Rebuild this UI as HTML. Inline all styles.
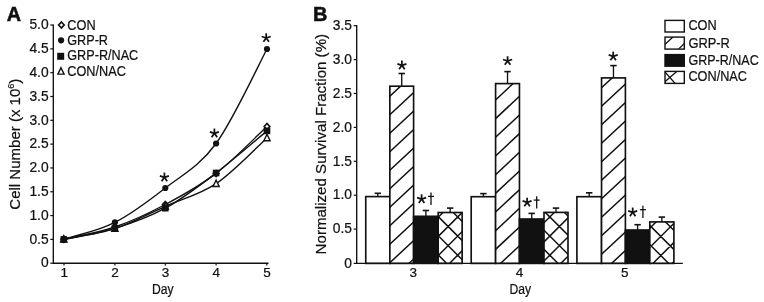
<!DOCTYPE html>
<html><head><meta charset="utf-8"><title>Figure</title>
<style>html,body{margin:0;padding:0;background:#fff}svg{display:block;will-change:transform}text{stroke:#111;stroke-width:.22px}text.pl{stroke-width:.55px}</style>
</head><body>
<svg width="764" height="302" viewBox="0 0 764 302">
<rect width="100%" height="100%" fill="#fff"/>
<defs>
</defs>
<g font-family="Liberation Sans, sans-serif" fill="#111">
<text x="6.8" y="21.1" font-size="20.7" class="pl" font-weight="bold" textLength="14.3" lengthAdjust="spacingAndGlyphs">A</text>
<path d="M53.30,24.45 V263.20 H268.50" fill="none" stroke="#111" stroke-width="1.35"/>
<line x1="50.30" y1="263.20" x2="53.30" y2="263.20" stroke="#111" stroke-width="1.2"/>
<text x="48.6" y="267.45" font-size="13.8" text-anchor="end">0</text>
<line x1="50.30" y1="239.38" x2="53.30" y2="239.38" stroke="#111" stroke-width="1.2"/>
<text x="48.6" y="243.63" font-size="13.8" text-anchor="end">0.5</text>
<line x1="50.30" y1="215.57" x2="53.30" y2="215.57" stroke="#111" stroke-width="1.2"/>
<text x="48.6" y="219.82" font-size="13.8" text-anchor="end">1.0</text>
<line x1="50.30" y1="191.75" x2="53.30" y2="191.75" stroke="#111" stroke-width="1.2"/>
<text x="48.6" y="196.00" font-size="13.8" text-anchor="end">1.5</text>
<line x1="50.30" y1="167.94" x2="53.30" y2="167.94" stroke="#111" stroke-width="1.2"/>
<text x="48.6" y="172.19" font-size="13.8" text-anchor="end">2.0</text>
<line x1="50.30" y1="144.12" x2="53.30" y2="144.12" stroke="#111" stroke-width="1.2"/>
<text x="48.6" y="148.38" font-size="13.8" text-anchor="end">2.5</text>
<line x1="50.30" y1="120.31" x2="53.30" y2="120.31" stroke="#111" stroke-width="1.2"/>
<text x="48.6" y="124.56" font-size="13.8" text-anchor="end">3.0</text>
<line x1="50.30" y1="96.50" x2="53.30" y2="96.50" stroke="#111" stroke-width="1.2"/>
<text x="48.6" y="100.75" font-size="13.8" text-anchor="end">3.5</text>
<line x1="50.30" y1="72.68" x2="53.30" y2="72.68" stroke="#111" stroke-width="1.2"/>
<text x="48.6" y="76.93" font-size="13.8" text-anchor="end">4.0</text>
<line x1="50.30" y1="48.87" x2="53.30" y2="48.87" stroke="#111" stroke-width="1.2"/>
<text x="48.6" y="53.12" font-size="13.8" text-anchor="end">4.5</text>
<line x1="50.30" y1="25.05" x2="53.30" y2="25.05" stroke="#111" stroke-width="1.2"/>
<text x="48.6" y="29.30" font-size="13.8" text-anchor="end">5.0</text>
<line x1="64.00" y1="263.20" x2="64.00" y2="265.60" stroke="#111" stroke-width="1.2"/>
<text x="64.20" y="277" font-size="13.5" text-anchor="middle">1</text>
<line x1="114.90" y1="263.20" x2="114.90" y2="265.60" stroke="#111" stroke-width="1.2"/>
<text x="115.10" y="277" font-size="13.5" text-anchor="middle">2</text>
<line x1="165.30" y1="263.20" x2="165.30" y2="265.60" stroke="#111" stroke-width="1.2"/>
<text x="165.50" y="277" font-size="13.5" text-anchor="middle">3</text>
<line x1="216.10" y1="263.20" x2="216.10" y2="265.60" stroke="#111" stroke-width="1.2"/>
<text x="216.30" y="277" font-size="13.5" text-anchor="middle">4</text>
<line x1="266.80" y1="263.20" x2="266.80" y2="265.60" stroke="#111" stroke-width="1.2"/>
<text x="267.00" y="277" font-size="13.5" text-anchor="middle">5</text>
<text x="162.8" y="293.8" font-size="14" text-anchor="middle" textLength="21.6" lengthAdjust="spacingAndGlyphs">Day</text>
<text transform="translate(19.7,209.7) rotate(-90)" font-size="15" textLength="131" lengthAdjust="spacingAndGlyphs">Cell Number (x 10<tspan font-size="9" dy="-5.5">6</tspan><tspan dy="5.5">)</tspan></text>
<path d="M63.80,239.30 C72.32,237.25 97.98,232.80 114.90,227.00 C131.82,221.20 148.43,213.43 165.30,204.50 C182.17,195.57 199.15,186.40 216.10,173.40 C233.05,160.40 258.52,134.32 267.00,126.50" fill="none" stroke="#111" stroke-width="1.4"/>
<path d="M63.80,239.30 C72.32,236.48 97.98,230.95 114.90,222.40 C131.82,213.85 148.43,201.15 165.30,188.00 C182.17,174.85 199.15,166.67 216.10,143.50 C233.05,120.33 258.52,64.75 267.00,49.00" fill="none" stroke="#111" stroke-width="1.4"/>
<path d="M63.80,239.40 C72.32,237.57 97.98,233.60 114.90,228.40 C131.82,223.20 148.43,217.43 165.30,208.20 C182.17,198.97 199.15,185.88 216.10,173.00 C233.05,160.12 258.52,137.92 267.00,130.90" fill="none" stroke="#111" stroke-width="1.4"/>
<path d="M63.80,239.30 C72.32,237.52 97.98,234.10 114.90,228.60 C131.82,223.10 148.43,213.78 165.30,206.30 C182.17,198.82 199.15,195.10 216.10,183.70 C233.05,172.30 258.52,145.53 267.00,137.90" fill="none" stroke="#111" stroke-width="1.4"/>
<path d="M63.80,236.30 L66.55,239.30 L63.80,242.30 L61.05,239.30 Z" fill="#fff" stroke="#111" stroke-width="1.7"/>
<path d="M114.90,224.00 L117.65,227.00 L114.90,230.00 L112.15,227.00 Z" fill="#fff" stroke="#111" stroke-width="1.7"/>
<path d="M165.30,201.50 L168.05,204.50 L165.30,207.50 L162.55,204.50 Z" fill="#fff" stroke="#111" stroke-width="1.7"/>
<path d="M216.10,170.40 L218.85,173.40 L216.10,176.40 L213.35,173.40 Z" fill="#fff" stroke="#111" stroke-width="1.7"/>
<path d="M267.00,123.50 L269.75,126.50 L267.00,129.50 L264.25,126.50 Z" fill="#fff" stroke="#111" stroke-width="1.7"/>
<path d="M63.80,235.70 L66.90,242.10 L60.70,242.10 Z" fill="#fff" stroke="#111" stroke-width="1.4" stroke-linejoin="miter"/>
<path d="M114.90,225.00 L118.00,231.40 L111.80,231.40 Z" fill="#fff" stroke="#111" stroke-width="1.4" stroke-linejoin="miter"/>
<path d="M165.30,202.70 L168.40,209.10 L162.20,209.10 Z" fill="#fff" stroke="#111" stroke-width="1.4" stroke-linejoin="miter"/>
<path d="M216.10,180.10 L219.20,186.50 L213.00,186.50 Z" fill="#fff" stroke="#111" stroke-width="1.4" stroke-linejoin="miter"/>
<path d="M267.00,134.30 L270.10,140.70 L263.90,140.70 Z" fill="#fff" stroke="#111" stroke-width="1.4" stroke-linejoin="miter"/>
<circle cx="63.80" cy="239.30" r="3.10" fill="#111"/>
<circle cx="114.90" cy="222.40" r="3.10" fill="#111"/>
<circle cx="165.30" cy="188.00" r="3.10" fill="#111"/>
<circle cx="216.10" cy="143.50" r="3.10" fill="#111"/>
<circle cx="267.00" cy="49.00" r="3.10" fill="#111"/>
<rect x="60.50" y="236.10" width="6.60" height="6.60" fill="#111"/>
<rect x="111.60" y="225.10" width="6.60" height="6.60" fill="#111"/>
<rect x="162.00" y="204.90" width="6.60" height="6.60" fill="#111"/>
<rect x="212.80" y="169.70" width="6.60" height="6.60" fill="#111"/>
<rect x="263.70" y="127.60" width="6.60" height="6.60" fill="#111"/>
<g stroke="#111" stroke-width="1.75" stroke-linecap="butt"><line x1="164.40" y1="177.30" x2="164.40" y2="172.55"/><line x1="164.40" y1="177.30" x2="168.92" y2="175.83"/><line x1="164.40" y1="177.30" x2="167.19" y2="181.14"/><line x1="164.40" y1="177.30" x2="161.61" y2="181.14"/><line x1="164.40" y1="177.30" x2="159.88" y2="175.83"/></g>
<g stroke="#111" stroke-width="1.75" stroke-linecap="butt"><line x1="214.40" y1="133.30" x2="214.40" y2="128.55"/><line x1="214.40" y1="133.30" x2="218.92" y2="131.83"/><line x1="214.40" y1="133.30" x2="217.19" y2="137.14"/><line x1="214.40" y1="133.30" x2="211.61" y2="137.14"/><line x1="214.40" y1="133.30" x2="209.88" y2="131.83"/></g>
<g stroke="#111" stroke-width="1.75" stroke-linecap="butt"><line x1="266.20" y1="38.00" x2="266.20" y2="33.25"/><line x1="266.20" y1="38.00" x2="270.72" y2="36.53"/><line x1="266.20" y1="38.00" x2="268.99" y2="41.84"/><line x1="266.20" y1="38.00" x2="263.41" y2="41.84"/><line x1="266.20" y1="38.00" x2="261.68" y2="36.53"/></g>
<path d="M61.40,22.00 L64.15,25.00 L61.40,28.00 L58.65,25.00 Z" fill="#fff" stroke="#111" stroke-width="1.7"/>
<circle cx="61.10" cy="40.30" r="3.10" fill="#111"/>
<rect x="57.20" y="52.80" width="7.00" height="7.00" fill="#111"/>
<path d="M61.00,67.70 L64.10,74.10 L57.90,74.10 Z" fill="#fff" stroke="#111" stroke-width="1.4" stroke-linejoin="miter"/>
<text x="67.3" y="29.70" font-size="14" textLength="28.30" lengthAdjust="spacingAndGlyphs">CON</text>
<text x="67.3" y="45.00" font-size="14" textLength="40.70" lengthAdjust="spacingAndGlyphs">GRP-R</text>
<text x="67.3" y="60.30" font-size="14" textLength="70.90" lengthAdjust="spacingAndGlyphs">GRP-R/NAC</text>
<text x="67.3" y="75.70" font-size="14" textLength="58.60" lengthAdjust="spacingAndGlyphs">CON/NAC</text>
</g>
<g font-family="Liberation Sans, sans-serif" fill="#111">
<text x="313.1" y="20.8" font-size="20.7" class="pl" font-weight="bold" textLength="14.4" lengthAdjust="spacingAndGlyphs">B</text>
<line x1="353.70" y1="263.40" x2="356.70" y2="263.40" stroke="#111" stroke-width="1.2"/>
<text x="351.9" y="267.65" font-size="13.8" text-anchor="end">0</text>
<line x1="353.70" y1="229.10" x2="356.70" y2="229.10" stroke="#111" stroke-width="1.2"/>
<text x="351.9" y="233.35" font-size="13.8" text-anchor="end">0.5</text>
<line x1="353.70" y1="195.20" x2="356.70" y2="195.20" stroke="#111" stroke-width="1.2"/>
<text x="351.9" y="199.45" font-size="13.8" text-anchor="end">1.0</text>
<line x1="353.70" y1="161.30" x2="356.70" y2="161.30" stroke="#111" stroke-width="1.2"/>
<text x="351.9" y="165.55" font-size="13.8" text-anchor="end">1.5</text>
<line x1="353.70" y1="127.40" x2="356.70" y2="127.40" stroke="#111" stroke-width="1.2"/>
<text x="351.9" y="131.65" font-size="13.8" text-anchor="end">2.0</text>
<line x1="353.70" y1="93.50" x2="356.70" y2="93.50" stroke="#111" stroke-width="1.2"/>
<text x="351.9" y="97.75" font-size="13.8" text-anchor="end">2.5</text>
<line x1="353.70" y1="59.60" x2="356.70" y2="59.60" stroke="#111" stroke-width="1.2"/>
<text x="351.9" y="63.85" font-size="13.8" text-anchor="end">3.0</text>
<line x1="353.70" y1="25.70" x2="356.70" y2="25.70" stroke="#111" stroke-width="1.2"/>
<text x="351.9" y="29.95" font-size="13.8" text-anchor="end">3.5</text>
<text transform="translate(326.0,254.4) rotate(-90)" font-size="15" textLength="220.5" lengthAdjust="spacingAndGlyphs">Normalized Survival Fraction (%)</text>
<path d="M377.80,196.60 V193.30" fill="none" stroke="#111" stroke-width="1.35"/><path d="M374.60,193.30 H381.00" fill="none" stroke="#111" stroke-width="1.6"/>
<rect x="365.75" y="196.60" width="24.10" height="66.80" fill="#fff" stroke="#111" stroke-width="1.65"/>
<path d="M401.73,86.20 V73.50" fill="none" stroke="#111" stroke-width="1.35"/><path d="M398.53,73.50 H404.93" fill="none" stroke="#111" stroke-width="1.6"/>
<rect x="389.85" y="86.20" width="23.75" height="177.20" fill="#fff" stroke="#111" stroke-width="1.65"/>
<clipPath id="c1"><rect x="389.85" y="86.20" width="23.75" height="177.20"/></clipPath>
<path d="M387.85,42.62 L415.60,16.67 M387.85,61.12 L415.60,35.17 M387.85,79.62 L415.60,53.67 M387.85,98.12 L415.60,72.17 M387.85,116.62 L415.60,90.67 M387.85,135.12 L415.60,109.17 M387.85,153.62 L415.60,127.67 M387.85,172.12 L415.60,146.17 M387.85,190.62 L415.60,164.67 M387.85,209.12 L415.60,183.17 M387.85,227.62 L415.60,201.67 M387.85,246.12 L415.60,220.17 M387.85,264.62 L415.60,238.67 M387.85,283.12 L415.60,257.17 " clip-path="url(#c1)" fill="none" stroke="#111" stroke-width="1.5"/>
<path d="M425.90,216.30 V210.50" fill="none" stroke="#111" stroke-width="1.35"/><path d="M422.70,210.50 H429.10" fill="none" stroke="#111" stroke-width="1.6"/>
<rect x="413.60" y="216.30" width="24.60" height="47.10" fill="#111" stroke="#111" stroke-width="1.65"/>
<path d="M450.17,212.50 V208.10" fill="none" stroke="#111" stroke-width="1.35"/><path d="M446.97,208.10 H453.37" fill="none" stroke="#111" stroke-width="1.6"/>
<rect x="438.20" y="212.50" width="23.95" height="50.90" fill="#fff" stroke="#111" stroke-width="1.65"/>
<clipPath id="c2"><rect x="438.20" y="212.50" width="23.95" height="50.90"/></clipPath>
<path d="M436.20,123.50 L464.15,95.55 M436.20,99.70 L464.15,127.65 M436.20,142.65 L464.15,114.70 M436.20,118.85 L464.15,146.80 M436.20,161.80 L464.15,133.85 M436.20,138.00 L464.15,165.95 M436.20,180.95 L464.15,153.00 M436.20,157.15 L464.15,185.10 M436.20,200.10 L464.15,172.15 M436.20,176.30 L464.15,204.25 M436.20,219.25 L464.15,191.30 M436.20,195.45 L464.15,223.40 M436.20,238.40 L464.15,210.45 M436.20,214.60 L464.15,242.55 M436.20,257.55 L464.15,229.60 M436.20,233.75 L464.15,261.70 M436.20,276.70 L464.15,248.75 M436.20,252.90 L464.15,280.85 M436.20,295.85 L464.15,267.90 M436.20,272.05 L464.15,300.00 M436.20,315.00 L464.15,287.05 M436.20,291.20 L464.15,319.15 M436.20,334.15 L464.15,306.20 M436.20,310.35 L464.15,338.30 M436.20,353.30 L464.15,325.35 M436.20,329.50 L464.15,357.45 " clip-path="url(#c2)" fill="none" stroke="#111" stroke-width="1.5"/>
<g stroke="#111" stroke-width="1.75" stroke-linecap="butt"><line x1="401.90" y1="65.30" x2="401.90" y2="60.55"/><line x1="401.90" y1="65.30" x2="406.42" y2="63.83"/><line x1="401.90" y1="65.30" x2="404.69" y2="69.14"/><line x1="401.90" y1="65.30" x2="399.11" y2="69.14"/><line x1="401.90" y1="65.30" x2="397.38" y2="63.83"/></g>
<g stroke="#111" stroke-width="1.75" stroke-linecap="butt"><line x1="421.60" y1="199.10" x2="421.60" y2="194.35"/><line x1="421.60" y1="199.10" x2="426.12" y2="197.63"/><line x1="421.60" y1="199.10" x2="424.39" y2="202.94"/><line x1="421.60" y1="199.10" x2="418.81" y2="202.94"/><line x1="421.60" y1="199.10" x2="417.08" y2="197.63"/></g>
<g stroke="#111" stroke-width="1.3"><line x1="431.00" y1="192.50" x2="431.00" y2="204.90"/><line x1="428.00" y1="196.40" x2="434.00" y2="196.40"/></g>
<text x="413.20" y="277.1" font-size="13.5" text-anchor="middle">3</text>
<path d="M483.40,196.70 V193.60" fill="none" stroke="#111" stroke-width="1.35"/><path d="M480.20,193.60 H486.60" fill="none" stroke="#111" stroke-width="1.6"/>
<rect x="471.20" y="196.70" width="24.40" height="66.70" fill="#fff" stroke="#111" stroke-width="1.65"/>
<path d="M507.53,83.60 V71.60" fill="none" stroke="#111" stroke-width="1.35"/><path d="M504.33,71.60 H510.73" fill="none" stroke="#111" stroke-width="1.6"/>
<rect x="495.60" y="83.60" width="23.85" height="179.80" fill="#fff" stroke="#111" stroke-width="1.65"/>
<clipPath id="c3"><rect x="495.60" y="83.60" width="23.85" height="179.80"/></clipPath>
<path d="M493.60,45.73 L521.45,19.69 M493.60,64.41 L521.45,38.37 M493.60,83.09 L521.45,57.05 M493.60,101.77 L521.45,75.73 M493.60,120.45 L521.45,94.41 M493.60,139.13 L521.45,113.09 M493.60,157.81 L521.45,131.77 M493.60,176.49 L521.45,150.45 M493.60,195.17 L521.45,169.13 M493.60,213.85 L521.45,187.81 M493.60,232.53 L521.45,206.49 M493.60,251.21 L521.45,225.17 M493.60,269.89 L521.45,243.85 M493.60,288.57 L521.45,262.53 " clip-path="url(#c3)" fill="none" stroke="#111" stroke-width="1.5"/>
<path d="M531.73,219.00 V213.40" fill="none" stroke="#111" stroke-width="1.35"/><path d="M528.52,213.40 H534.93" fill="none" stroke="#111" stroke-width="1.6"/>
<rect x="519.45" y="219.00" width="24.55" height="44.40" fill="#111" stroke="#111" stroke-width="1.65"/>
<path d="M556.00,212.40 V208.10" fill="none" stroke="#111" stroke-width="1.35"/><path d="M552.80,208.10 H559.20" fill="none" stroke="#111" stroke-width="1.6"/>
<rect x="544.00" y="212.40" width="24.00" height="51.00" fill="#fff" stroke="#111" stroke-width="1.65"/>
<clipPath id="c4"><rect x="544.00" y="212.40" width="24.00" height="51.00"/></clipPath>
<path d="M542.00,129.00 L570.00,101.00 M542.00,94.20 L570.00,122.20 M542.00,148.15 L570.00,120.15 M542.00,113.35 L570.00,141.35 M542.00,167.30 L570.00,139.30 M542.00,132.50 L570.00,160.50 M542.00,186.45 L570.00,158.45 M542.00,151.65 L570.00,179.65 M542.00,205.60 L570.00,177.60 M542.00,170.80 L570.00,198.80 M542.00,224.75 L570.00,196.75 M542.00,189.95 L570.00,217.95 M542.00,243.90 L570.00,215.90 M542.00,209.10 L570.00,237.10 M542.00,263.05 L570.00,235.05 M542.00,228.25 L570.00,256.25 M542.00,282.20 L570.00,254.20 M542.00,247.40 L570.00,275.40 M542.00,301.35 L570.00,273.35 M542.00,266.55 L570.00,294.55 M542.00,320.50 L570.00,292.50 M542.00,285.70 L570.00,313.70 M542.00,339.65 L570.00,311.65 M542.00,304.85 L570.00,332.85 M542.00,358.80 L570.00,330.80 M542.00,324.00 L570.00,352.00 " clip-path="url(#c4)" fill="none" stroke="#111" stroke-width="1.5"/>
<g stroke="#111" stroke-width="1.75" stroke-linecap="butt"><line x1="507.60" y1="61.00" x2="507.60" y2="56.25"/><line x1="507.60" y1="61.00" x2="512.12" y2="59.53"/><line x1="507.60" y1="61.00" x2="510.39" y2="64.84"/><line x1="507.60" y1="61.00" x2="504.81" y2="64.84"/><line x1="507.60" y1="61.00" x2="503.08" y2="59.53"/></g>
<g stroke="#111" stroke-width="1.75" stroke-linecap="butt"><line x1="527.10" y1="202.40" x2="527.10" y2="197.65"/><line x1="527.10" y1="202.40" x2="531.62" y2="200.93"/><line x1="527.10" y1="202.40" x2="529.89" y2="206.24"/><line x1="527.10" y1="202.40" x2="524.31" y2="206.24"/><line x1="527.10" y1="202.40" x2="522.58" y2="200.93"/></g>
<g stroke="#111" stroke-width="1.3"><line x1="536.70" y1="196.20" x2="536.70" y2="208.40"/><line x1="533.70" y1="200.10" x2="539.70" y2="200.10"/></g>
<text x="519.50" y="277.1" font-size="13.5" text-anchor="middle">4</text>
<path d="M589.22,196.70 V192.80" fill="none" stroke="#111" stroke-width="1.35"/><path d="M586.02,192.80 H592.42" fill="none" stroke="#111" stroke-width="1.6"/>
<rect x="576.90" y="196.70" width="24.65" height="66.70" fill="#fff" stroke="#111" stroke-width="1.65"/>
<path d="M613.47,77.90 V65.60" fill="none" stroke="#111" stroke-width="1.35"/><path d="M610.27,65.60 H616.67" fill="none" stroke="#111" stroke-width="1.6"/>
<rect x="601.55" y="77.90" width="23.85" height="185.50" fill="#fff" stroke="#111" stroke-width="1.65"/>
<clipPath id="c5"><rect x="601.55" y="77.90" width="23.85" height="185.50"/></clipPath>
<path d="M599.55,34.17 L627.40,8.13 M599.55,52.67 L627.40,26.63 M599.55,71.17 L627.40,45.13 M599.55,89.67 L627.40,63.63 M599.55,108.17 L627.40,82.13 M599.55,126.67 L627.40,100.63 M599.55,145.17 L627.40,119.13 M599.55,163.67 L627.40,137.63 M599.55,182.17 L627.40,156.13 M599.55,200.67 L627.40,174.63 M599.55,219.17 L627.40,193.13 M599.55,237.67 L627.40,211.63 M599.55,256.17 L627.40,230.13 M599.55,274.67 L627.40,248.63 " clip-path="url(#c5)" fill="none" stroke="#111" stroke-width="1.5"/>
<path d="M637.60,230.00 V224.70" fill="none" stroke="#111" stroke-width="1.35"/><path d="M634.40,224.70 H640.80" fill="none" stroke="#111" stroke-width="1.6"/>
<rect x="625.40" y="230.00" width="24.40" height="33.40" fill="#111" stroke="#111" stroke-width="1.65"/>
<path d="M661.85,221.90 V217.10" fill="none" stroke="#111" stroke-width="1.35"/><path d="M658.65,217.10 H665.05" fill="none" stroke="#111" stroke-width="1.6"/>
<rect x="649.80" y="221.90" width="24.10" height="41.50" fill="#fff" stroke="#111" stroke-width="1.65"/>
<clipPath id="c6"><rect x="649.80" y="221.90" width="24.10" height="41.50"/></clipPath>
<path d="M647.80,134.50 L675.90,106.40 M647.80,108.50 L675.90,136.60 M647.80,153.65 L675.90,125.55 M647.80,127.65 L675.90,155.75 M647.80,172.80 L675.90,144.70 M647.80,146.80 L675.90,174.90 M647.80,191.95 L675.90,163.85 M647.80,165.95 L675.90,194.05 M647.80,211.10 L675.90,183.00 M647.80,185.10 L675.90,213.20 M647.80,230.25 L675.90,202.15 M647.80,204.25 L675.90,232.35 M647.80,249.40 L675.90,221.30 M647.80,223.40 L675.90,251.50 M647.80,268.55 L675.90,240.45 M647.80,242.55 L675.90,270.65 M647.80,287.70 L675.90,259.60 M647.80,261.70 L675.90,289.80 M647.80,306.85 L675.90,278.75 M647.80,280.85 L675.90,308.95 M647.80,326.00 L675.90,297.90 M647.80,300.00 L675.90,328.10 M647.80,345.15 L675.90,317.05 M647.80,319.15 L675.90,347.25 M647.80,364.30 L675.90,336.20 M647.80,338.30 L675.90,366.40 " clip-path="url(#c6)" fill="none" stroke="#111" stroke-width="1.5"/>
<g stroke="#111" stroke-width="1.75" stroke-linecap="butt"><line x1="613.20" y1="56.40" x2="613.20" y2="51.65"/><line x1="613.20" y1="56.40" x2="617.72" y2="54.93"/><line x1="613.20" y1="56.40" x2="615.99" y2="60.24"/><line x1="613.20" y1="56.40" x2="610.41" y2="60.24"/><line x1="613.20" y1="56.40" x2="608.68" y2="54.93"/></g>
<g stroke="#111" stroke-width="1.75" stroke-linecap="butt"><line x1="632.70" y1="212.30" x2="632.70" y2="207.55"/><line x1="632.70" y1="212.30" x2="637.22" y2="210.83"/><line x1="632.70" y1="212.30" x2="635.49" y2="216.14"/><line x1="632.70" y1="212.30" x2="629.91" y2="216.14"/><line x1="632.70" y1="212.30" x2="628.18" y2="210.83"/></g>
<g stroke="#111" stroke-width="1.3"><line x1="642.90" y1="205.80" x2="642.90" y2="217.90"/><line x1="639.90" y1="209.70" x2="645.90" y2="209.70"/></g>
<text x="624.80" y="277.1" font-size="13.5" text-anchor="middle">5</text>
<path d="M356.70,25.10 V263.40 H682.80" fill="none" stroke="#111" stroke-width="1.35"/>
<text x="520.2" y="293.8" font-size="14" text-anchor="middle" textLength="21.6" lengthAdjust="spacingAndGlyphs">Day</text>
<rect x="665.00" y="20.40" width="19.30" height="11.60" fill="#fff" stroke="#111" stroke-width="1.4"/>
<rect x="665.00" y="37.10" width="19.30" height="12.00" fill="#fff" stroke="#111" stroke-width="1.4"/>
<rect x="665.00" y="54.60" width="19.30" height="11.60" fill="#111" stroke="#111" stroke-width="1.4"/>
<rect x="665.00" y="71.40" width="19.30" height="12.00" fill="#fff" stroke="#111" stroke-width="1.4"/>
<clipPath id="l1"><rect x="665.00" y="37.10" width="19.30" height="11.6"/></clipPath>
<path d="M664.00,45.20 L673.90,36.10 M677.20,50.40 L685.60,42.20" clip-path="url(#l1)" stroke="#111" stroke-width="1.3" fill="none"/>
<clipPath id="l2"><rect x="665.00" y="71.40" width="19.30" height="11.6"/></clipPath>
<path d="M664.00,82.40 L678.00,70.40 M664.00,70.90 L676.00,84.40" clip-path="url(#l2)" stroke="#111" stroke-width="1.3" fill="none"/>
<text x="688.4" y="30.20" font-size="14" textLength="28.30" lengthAdjust="spacingAndGlyphs">CON</text>
<text x="688.4" y="47.80" font-size="14" textLength="41.50" lengthAdjust="spacingAndGlyphs">GRP-R</text>
<text x="688.4" y="64.70" font-size="14" textLength="70.30" lengthAdjust="spacingAndGlyphs">GRP-R/NAC</text>
<text x="688.4" y="81.10" font-size="14" textLength="58.60" lengthAdjust="spacingAndGlyphs">CON/NAC</text>
</g>
</svg>
</body></html>
